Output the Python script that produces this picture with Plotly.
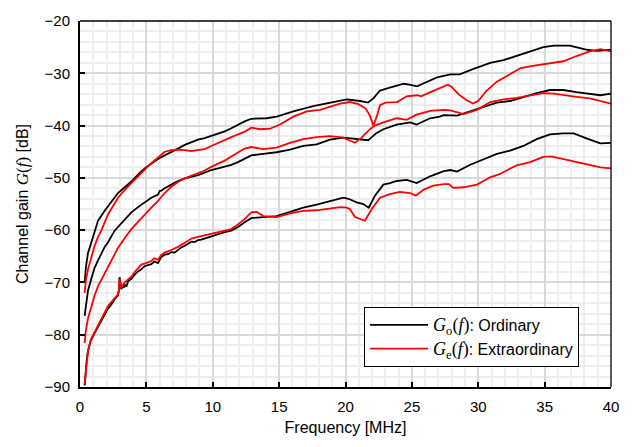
import plotly.graph_objects as go

# Measured channel gain G(f) [dB] against frequency [MHz], three paths,
# each with an ordinary (o) and an extraordinary (e) component.

f_o_upper = [0.35, 0.45, 0.6, 0.85, 1.1, 1.36, 1.86, 2.36, 2.86, 3.37, 3.87, 4.37, 4.87,
             5.37, 5.88, 6.38, 6.88, 7.38, 7.89, 8.39, 8.89, 9.39, 9.89, 10.4, 10.9, 11.4,
             11.9, 12.4, 12.9, 13.4, 14.06, 14.82, 16.07, 17.57, 19.08, 20.09, 21.1, 21.7,
             22.1, 22.6, 23.4, 24.4, 24.9, 25.4, 25.9, 26.9, 27.9, 28.6, 29.6, 30.9, 31.9,
             32.9, 33.9, 34.9, 35.7, 36.9, 38.2, 38.9, 40.0]
g_o_upper = [-70.0, -67.0, -64.4, -62.3, -60.1, -58.2, -56.3, -54.6, -52.9, -51.8, -50.7,
             -49.4, -48.2, -47.3, -46.4, -45.7, -45.1, -44.4, -43.7, -43.2, -42.7, -42.4,
             -42.0, -41.6, -41.1, -40.5, -39.8, -39.2, -38.7, -38.6, -38.6, -38.3, -37.3,
             -36.3, -35.5, -35.0, -35.3, -35.6, -34.8, -33.3, -32.7, -32.0, -32.2, -32.5,
             -31.9, -30.8, -30.2, -30.2, -29.2, -28.0, -27.5, -26.7, -25.8, -25.0, -24.7,
             -24.7, -25.5, -25.7, -25.5]

f_e_upper = [0.35, 0.45, 0.6, 0.85, 1.1, 1.36, 1.6, 2.11, 2.5, 2.86, 3.37, 3.87, 4.37,
             4.87, 5.37, 5.88, 6.38, 6.88, 7.38, 7.89, 8.39, 8.89, 9.39, 9.89, 10.4, 10.9,
             11.4, 11.9, 12.4, 12.9, 13.56, 14.31, 15.07, 16.07, 17.08, 18.08, 18.83, 19.59,
             20.34, 20.97, 21.5, 21.8, 22.1, 22.35, 22.6, 23.0, 23.9, 24.6, 25.4, 25.7,
             26.4, 27.1, 27.7, 28.0, 28.5, 29.1, 29.6, 30.0, 30.6, 31.4, 32.4, 33.2, 34.1,
             35.2, 35.9, 36.4, 37.4, 38.4, 39.2, 40.0]
g_e_upper = [-72.0, -69.5, -67.5, -65.2, -63.0, -61.3, -60.1, -57.0, -55.2, -53.8, -52.3,
             -51.0, -49.6, -48.4, -47.2, -46.1, -45.0, -44.7, -44.6, -44.7, -44.9, -44.7,
             -44.5, -43.9, -43.3, -42.7, -42.2, -41.7, -41.2, -40.4, -40.7, -40.6, -39.8,
             -38.3, -37.3, -37.0, -36.4, -35.8, -35.5, -35.9, -36.7, -37.9, -40.0, -38.3,
             -36.1, -35.6, -35.5, -34.4, -34.2, -34.4, -33.6, -32.8, -32.2, -32.6, -34.0,
             -35.1, -35.8, -35.3, -33.4, -31.6, -30.2, -29.0, -28.6, -28.2, -27.8, -27.7,
             -26.7, -25.8, -25.4, -25.8]

f_o_middle = [0.35, 0.45, 0.6, 0.85, 1.1, 1.36, 1.86, 2.11, 2.61, 2.86, 3.37, 3.87, 4.37,
              4.87, 5.12, 5.37, 5.88, 6.0, 6.1, 6.38, 6.88, 7.38, 7.89, 8.39, 8.89, 9.39,
              9.89, 10.4, 10.9, 11.4, 11.9, 12.4, 12.9, 13.81, 14.81, 15.82, 16.82, 17.83,
              18.83, 19.84, 20.84, 21.34, 21.71, 22.35, 22.85, 23.85, 24.86, 25.36, 26.37,
              27.1, 27.4, 28.4, 29.4, 30.4, 31.4, 32.4, 33.4, 34.4, 35.4, 36.4, 37.4, 38.4,
              39.2, 40.0]
g_o_middle = [-76.4, -74.0, -71.6, -69.3, -67.2, -65.8, -63.2, -62.3, -60.1, -59.4, -57.9,
              -56.6, -55.6, -54.7, -54.3, -53.8, -53.2, -52.5, -52.5, -52.0, -51.3, -50.6,
              -50.1, -49.8, -49.5, -49.0, -48.5, -48.2, -47.9, -47.5, -47.0, -46.3, -45.7,
              -45.4, -45.1, -44.6, -43.9, -43.6, -42.7, -42.3, -42.5, -42.7, -42.8, -41.4,
              -40.7, -39.8, -39.4, -39.8, -38.6, -38.3, -38.0, -38.1, -37.3, -36.4, -35.6,
              -35.3, -34.5, -33.8, -33.2, -33.2, -33.6, -34.0, -34.2, -33.9]

f_e_middle = [0.35, 0.45, 0.6, 0.85, 1.1, 1.36, 1.86, 2.36, 2.86, 3.37, 3.87, 4.37, 4.87,
              5.37, 5.88, 6.38, 6.88, 7.38, 7.89, 8.39, 8.89, 9.39, 9.89, 10.4, 10.9, 11.4,
              11.9, 12.4, 12.9, 13.31, 13.81, 14.81, 15.82, 16.82, 17.83, 18.83, 19.84,
              20.34, 20.71, 21.21, 21.84, 22.22, 22.85, 23.85, 24.61, 25.36, 26.37, 27.4,
              27.9, 28.9, 29.9, 30.9, 31.9, 32.9, 33.9, 34.9, 35.7, 36.4, 37.4, 38.4, 39.2,
              40.0]
g_e_middle = [-81.6, -79.0, -76.9, -74.5, -72.5, -70.7, -68.2, -65.6, -63.4, -61.5, -59.8,
              -58.4, -57.0, -55.7, -54.4, -52.9, -51.7, -50.8, -50.1, -49.6, -49.2, -48.6,
              -47.9, -47.3, -46.7, -45.9, -45.1, -44.4, -44.1, -44.3, -44.5, -44.2, -43.3,
              -42.6, -42.2, -42.0, -42.3, -42.9, -43.3, -42.3, -40.7, -40.0, -39.4, -38.6,
              -38.9, -37.9, -37.2, -37.0, -37.1, -37.8, -37.0, -35.5, -35.0, -34.7, -34.2,
              -33.8, -33.9, -34.2, -34.5, -34.8, -35.3, -35.8]

f_o_lower = [0.35, 0.42, 0.5, 0.6, 0.8, 1.1, 1.35, 1.61, 1.86, 2.11, 2.36, 2.61, 2.86, 2.93,
             2.98, 3.04, 3.11, 3.2, 3.3, 3.37, 3.5, 3.62, 3.87, 4.12, 4.37, 4.62, 4.87, 5.12,
             5.37, 5.6, 5.88, 6.1, 6.38, 6.63, 6.88, 7.13, 7.38, 7.63, 7.89, 8.14, 8.39,
             8.64, 8.89, 9.14, 9.39, 9.64, 9.89, 10.4, 10.9, 11.4, 11.9, 12.4, 12.9, 13.81,
             14.81, 15.82, 16.82, 17.83, 18.83, 19.84, 20.22, 20.84, 21.34, 21.75, 22.22,
             22.6, 22.85, 23.35, 23.85, 24.61, 25.36, 26.37, 27.4, 27.9, 28.4, 29.4, 30.4,
             31.4, 32.4, 33.4, 34.4, 35.4, 36.4, 37.2, 38.2, 39.2, 40.0]
g_o_lower = [-89.7, -87.0, -85.0, -83.1, -81.2, -79.7, -78.5, -77.5, -76.3, -75.0, -74.2,
             -73.2, -72.5, -71.6, -69.0, -70.2, -71.3, -70.6, -71.0, -70.4, -70.8, -69.8,
             -69.3, -68.5, -67.9, -67.5, -66.9, -66.7, -66.5, -66.0, -66.3, -65.2, -64.7,
             -64.6, -64.2, -64.3, -63.8, -63.3, -63.0, -62.6, -62.2, -62.3, -61.9, -61.8,
             -61.6, -61.3, -61.1, -60.8, -60.4, -60.1, -59.4, -58.5, -57.7, -57.5, -57.3,
             -56.5, -55.7, -55.1, -54.4, -53.8, -54.0, -54.7, -55.0, -55.7, -53.4, -52.0,
             -51.3, -51.0, -50.6, -50.4, -51.0, -49.7, -48.7, -48.5, -48.8, -47.5, -46.4,
             -45.4, -44.8, -43.9, -42.6, -41.7, -41.5, -41.5, -42.5, -43.4, -43.3]

f_e_lower = [0.35, 0.5, 0.6, 0.8, 1.1, 1.61, 2.11, 2.36, 2.61, 2.86, 2.93, 2.98, 3.04,
             3.11, 3.37, 3.62, 3.87, 4.12, 4.37, 4.62, 4.87, 5.12, 5.37, 5.6, 5.88, 6.1,
             6.38, 6.88, 7.38, 7.89, 8.39, 8.89, 9.39, 9.89, 10.4, 10.9, 11.4, 11.9, 12.4,
             12.9, 13.31, 13.81, 14.81, 15.82, 16.82, 17.83, 18.83, 19.6, 20.09, 20.34,
             20.71, 21.34, 21.46, 21.97, 22.6, 23.35, 24.1, 24.86, 25.3, 25.86, 26.61, 27.4,
             27.8, 28.1, 28.9, 29.9, 30.9, 31.6, 32.9, 33.9, 34.9, 35.5, 36.4, 37.4, 38.4,
             39.2, 40.0]
g_e_lower = [-89.4, -85.4, -83.2, -81.0, -79.4, -77.0, -74.5, -73.8, -73.0, -72.3, -71.3,
             -69.3, -70.0, -71.0, -70.0, -69.4, -68.9, -68.0, -67.3, -66.6, -66.4, -66.1,
             -65.9, -65.4, -65.7, -64.8, -64.3, -63.8, -63.2, -62.4, -61.6, -61.3, -61.0,
             -60.8, -60.5, -60.2, -59.8, -58.9, -57.9, -56.6, -56.5, -57.3, -57.5, -56.8,
             -56.3, -56.2, -55.9, -55.6, -55.7, -56.0, -57.5, -58.1, -58.2, -56.0, -53.8,
             -53.1, -52.7, -52.9, -53.4, -52.3, -51.5, -51.2, -51.2, -51.9, -51.8, -51.3,
             -49.9, -49.3, -47.6, -47.0, -46.0, -45.9, -46.4, -47.0, -47.6, -48.0, -48.2]

BLACK = "#000000"
RED = "#ff0000"
SANS = "Liberation Sans, Arial, sans-serif"
SERIF = "'Liberation Serif', 'DejaVu Serif', serif"


def gain_symbol(sub):
    return (f"<span style=\"font-family:{SERIF};font-size:18px\"><i>G</i><sub>{sub}</sub>"
            f"(<i>f</i>)</span>")


series = [
    (f_o_upper, g_o_upper, BLACK, "o", True),
    (f_o_middle, g_o_middle, BLACK, "o", False),
    (f_o_lower, g_o_lower, BLACK, "o", False),
    (f_e_upper, g_e_upper, RED, "e", True),
    (f_e_middle, g_e_middle, RED, "e", False),
    (f_e_lower, g_e_lower, RED, "e", False),
]
labels = {"o": "Ordinary", "e": "Extraordinary"}

fig = go.Figure()
for freq, gain, color, kind, show in series:
    fig.add_trace(go.Scatter(
        x=freq, y=gain, mode="lines",
        line=dict(color=color, width=1.8),
        name=f"{gain_symbol(kind)}: {labels[kind]}",
        legendgroup=kind, showlegend=show,
    ))

axis_common = dict(
    ticks="inside", ticklen=5, tickwidth=1.5, tickcolor="black",
    showline=True, linecolor="black", linewidth=2, mirror=False,
    showgrid=True, gridcolor="#d9d9d9", gridwidth=1.6,
    zeroline=False, tickfont=dict(size=15, color="black"),
)

fig.update_xaxes(
    range=[0, 40], tick0=0, dtick=5,
    minor=dict(dtick=1, showgrid=True, gridcolor="#eeeeee", gridwidth=1.8),
    title=dict(text="Frequency [MHz]", font=dict(size=16), standoff=8),
    ticklabelstandoff=5,
    **axis_common,
)
fig.update_yaxes(
    range=[-90, -20], tick0=-90, dtick=10,
    minor=dict(dtick=2, showgrid=True, gridcolor="#eeeeee", gridwidth=1.8),
    title=dict(text=f"Channel gain <span style=\"font-family:{SERIF};font-size:17px\">"
                    f"<i>G</i>(<i>f</i>)</span> [dB]",
               font=dict(size=16), standoff=12),
    ticklabelstandoff=5,
    **axis_common,
)

# thin frame along the top and right of the plotting area
for x0, y0, x1, y1 in [(0, 1, 1, 1), (1, 0, 1, 1)]:
    fig.add_shape(type="line", xref="paper", yref="paper", x0=x0, y0=y0, x1=x1, y1=y1,
                  line=dict(color="black", width=1.3))

fig.update_layout(
    width=641, height=447,
    margin=dict(l=80, r=30, t=12, b=60, pad=0),
    paper_bgcolor="white", plot_bgcolor="white",
    font=dict(family=SANS, size=15, color="black"),
    legend=dict(x=0.535, y=0.2187, xanchor="left", yanchor="top",
                bgcolor="white", bordercolor="black", borderwidth=1,
                font=dict(size=16, family=SANS), itemwidth=58, tracegroupgap=0),
)

fig.write_html("out.html")
